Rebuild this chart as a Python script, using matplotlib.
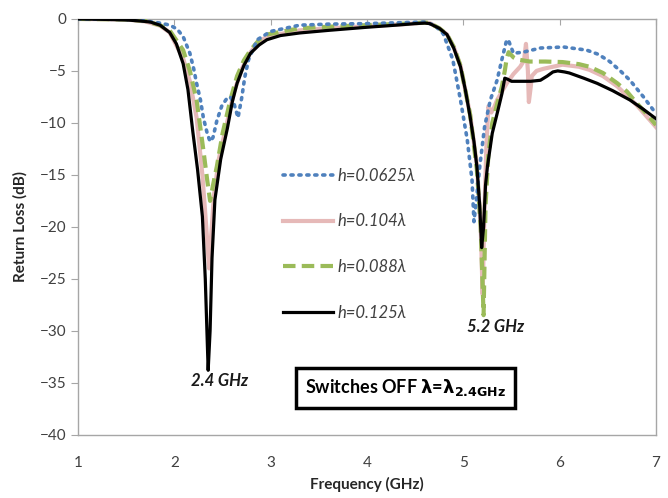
import matplotlib.pyplot as plt

plt.rcParams['font.family'] = ['Lato', 'DejaVu Sans']

# h=0.0625 lambda (blue dotted)
f_blue = [1.0, 1.5, 1.7, 1.85, 1.955, 2.03, 2.09, 2.16, 2.20, 2.23, 2.27, 2.30, 2.34, 2.37, 2.40,
          2.44, 2.49, 2.54, 2.58, 2.62, 2.66, 2.70, 2.73, 2.77, 2.86, 3.0, 3.3, 3.6, 4.0, 4.4,
          4.6, 4.7, 4.79, 4.89, 4.97, 5.04, 5.09, 5.11, 5.14, 5.17, 5.22, 5.28, 5.35, 5.40, 5.45,
          5.47, 5.52, 5.62, 5.8, 6.04, 6.28, 6.4, 6.52, 6.63, 6.73, 6.87, 7.0]
rl_blue = [0, -0.05, -0.2, -0.4, -0.6, -1.0, -1.7, -3.3, -4.8, -6.2, -7.8, -9.5, -11.0, -11.8, -11.4,
           -9.8, -8.4, -7.7, -7.5, -8.2, -9.5, -7.5, -5.6, -3.9, -2.0, -1.2, -0.6, -0.5, -0.45, -0.35,
           -0.3, -0.6, -1.4, -3.9, -7.8, -11.6, -15.5, -19.5, -17.0, -14.2, -10.4, -7.8, -5.9, -3.9, -2.0,
           -2.1, -3.3, -3.2, -2.8, -2.7, -3.0, -3.4, -4.1, -5.0, -5.9, -7.5, -9.1]

# h=0.104 lambda (pink solid)
f_pink = [1.0, 1.5, 1.7, 1.85, 1.95, 2.09, 2.16, 2.23, 2.29, 2.33, 2.36, 2.38, 2.41, 2.46, 2.55,
          2.62, 2.70, 2.79, 2.88, 2.96, 3.3, 3.6, 4.0, 4.4, 4.6, 4.65, 4.75, 4.83, 4.9, 4.97,
          5.07, 5.14, 5.18, 5.20, 5.22, 5.24, 5.26, 5.29, 5.32, 5.35, 5.45, 5.52, 5.59, 5.63, 5.65,
          5.67, 5.68, 5.70, 5.71, 5.76, 5.83, 6.03, 6.2, 6.31, 6.45, 6.6, 6.8, 7.0]
rl_pink = [0, -0.05, -0.25, -0.65, -1.3, -3.8, -6.0, -9.5, -15.0, -20.0, -24.0, -21.0, -17.0, -13.5, -9.8,
           -7.0, -4.8, -3.2, -2.2, -1.7, -1.1, -0.9, -0.7, -0.5, -0.35, -0.4, -0.9, -1.5, -2.7, -4.5,
           -9.2, -14.0, -20.0, -26.5, -18.0, -12.0, -8.4, -9.0, -8.5, -7.8, -6.2, -5.3, -4.6, -4.0, -2.4,
           -5.0, -8.0, -6.5, -5.5, -5.0, -4.8, -4.4, -4.6, -4.9, -5.5, -6.5, -8.3, -10.4]

# h=0.088 lambda (green dashed)
f_green = [1.0, 1.5, 1.7, 1.85, 1.95, 2.09, 2.16, 2.23, 2.30, 2.34, 2.37, 2.40, 2.44, 2.50, 2.58,
           2.65, 2.72, 2.79, 2.88, 2.96, 3.3, 3.6, 4.0, 4.4, 4.6, 4.65, 4.75, 4.83, 4.9, 4.97,
           5.07, 5.14, 5.18, 5.21, 5.23, 5.26, 5.30, 5.35, 5.40, 5.43, 5.45, 5.47, 5.52, 5.56, 5.69,
           5.85, 6.03, 6.2, 6.31, 6.45, 6.6, 6.7, 6.8, 6.9, 7.0]
rl_green = [0, -0.05, -0.2, -0.6, -1.1, -3.0, -5.0, -7.8, -12.6, -15.5, -17.5, -16.0, -14.2, -11.0, -7.8,
            -5.5, -4.0, -3.0, -2.0, -1.5, -0.9, -0.75, -0.6, -0.45, -0.35, -0.4, -0.9, -1.5, -2.7, -4.5,
            -9.2, -14.5, -20.0, -28.5, -18.0, -13.0, -10.0, -8.2, -6.5, -5.0, -3.8, -3.2, -3.7, -3.9, -4.1,
            -4.1, -4.15, -4.35, -4.6, -5.2, -6.2, -7.0, -8.1, -9.1, -10.2]

# h=0.125 lambda (black solid)
f_black = [1.0, 1.3, 1.5, 1.65, 1.75, 1.85, 1.95, 2.02, 2.09, 2.14, 2.19, 2.24, 2.29, 2.32, 2.35,
           2.37, 2.39, 2.42, 2.48, 2.55, 2.60, 2.65, 2.72, 2.79, 2.88, 2.96, 3.1, 3.3, 3.6, 4.0,
           4.3, 4.5, 4.6, 4.65, 4.75, 4.83, 4.9, 4.97, 5.02, 5.07, 5.11, 5.14, 5.17, 5.19, 5.21,
           5.23, 5.25, 5.30, 5.36, 5.40, 5.43, 5.46, 5.50, 5.6, 5.7, 5.8, 5.87, 5.93, 5.98, 6.05,
           6.1, 6.25, 6.39, 6.55, 6.73, 6.87, 7.0]
rl_black = [0, -0.05, -0.1, -0.2, -0.3, -0.6, -1.3, -2.4, -4.3, -6.8, -10.8, -14.5, -19.0, -25.0, -33.8,
            -30.0, -23.0, -17.4, -13.5, -10.5, -8.0, -6.2, -4.5, -3.3, -2.5, -2.0, -1.6, -1.35, -1.1, -0.8,
            -0.6, -0.45, -0.4, -0.45, -0.9, -1.5, -2.8, -4.6, -6.8, -9.4, -11.8, -14.2, -18.0, -22.0, -20.0,
            -16.0, -14.2, -11.0, -8.75, -7.2, -5.7, -5.8, -6.0, -6.0, -6.0, -5.9, -5.5, -5.1, -5.0, -5.1,
            -5.2, -5.7, -6.2, -6.9, -7.8, -8.7, -9.6]

labels = ['h=0.0625λ', 'h=0.104λ', 'h=0.088λ', 'h=0.125λ']

fig = plt.figure(figsize=(6.68, 4.98), dpi=100)
ax = fig.add_axes([0.117, 0.127, 0.865, 0.835])

ax.plot(f_blue, rl_blue, color='#4F81BD', lw=2.6, ls=(0, (0.6, 1.6)), dash_capstyle='round',
        label=labels[0], zorder=4)
ax.plot(f_pink, rl_pink, color='#E6B9B8', lw=3.0, label=labels[1], zorder=2)
ax.plot(f_green, rl_green, color='#9BBB59', lw=3.0, ls=(0, (3, 1.5)), label=labels[2], zorder=3)
ax.plot(f_black, rl_black, color='black', lw=2.3, label=labels[3], zorder=5)

ax.set_xlim(1, 7)
ax.set_ylim(-40, 0)
ax.set_xticks(range(1, 8))
ax.set_yticks(range(-40, 1, 5))

for s in ax.spines.values():
    s.set_color('#A6A6A6')
    s.set_linewidth(1.0)

ax.tick_params(axis='x', top=True, bottom=False, labelbottom=True, direction='in',
               length=4, color='#A6A6A6', labelsize=11, labelcolor='#404040', pad=15)
ax.tick_params(axis='y', direction='out', length=5, color='#A6A6A6',
               labelsize=11, labelcolor='#404040')

ax.set_xlabel('Frequency (GHz)', fontsize=11, fontweight='bold', color='#262626', labelpad=5)
ax.set_ylabel('Return Loss (dB)', fontsize=11, fontweight='bold', color='#262626', labelpad=9)

leg = ax.legend(loc='upper left', bbox_to_anchor=(0.34, 0.662), frameon=False,
                handlelength=3.0, handletextpad=0.3, labelspacing=1.78, borderpad=0,
                prop={'style': 'italic', 'size': 12})
for t in leg.get_texts():
    t.set_color('#404040')

ax.text(2.47, -34.8, '2.4 GHz', fontsize=12, fontweight='bold', style='italic',
        ha='center', va='center', color='#1a1a1a')
ax.text(5.33, -29.6, '5.2 GHz', fontsize=12, fontweight='bold', style='italic',
        ha='center', va='center', color='#1a1a1a')
ax.text(4.40, -35.5, r'Switches OFF $\mathbf{\lambda}$=$\mathbf{\lambda_{2.4GHz}}$',
        fontsize=13, fontweight='bold', ha='center', va='center', color='black',
        bbox=dict(boxstyle='square,pad=0.5', fc='white', ec='black', lw=2.5), zorder=6)

fig.savefig('out.png', dpi=100)
